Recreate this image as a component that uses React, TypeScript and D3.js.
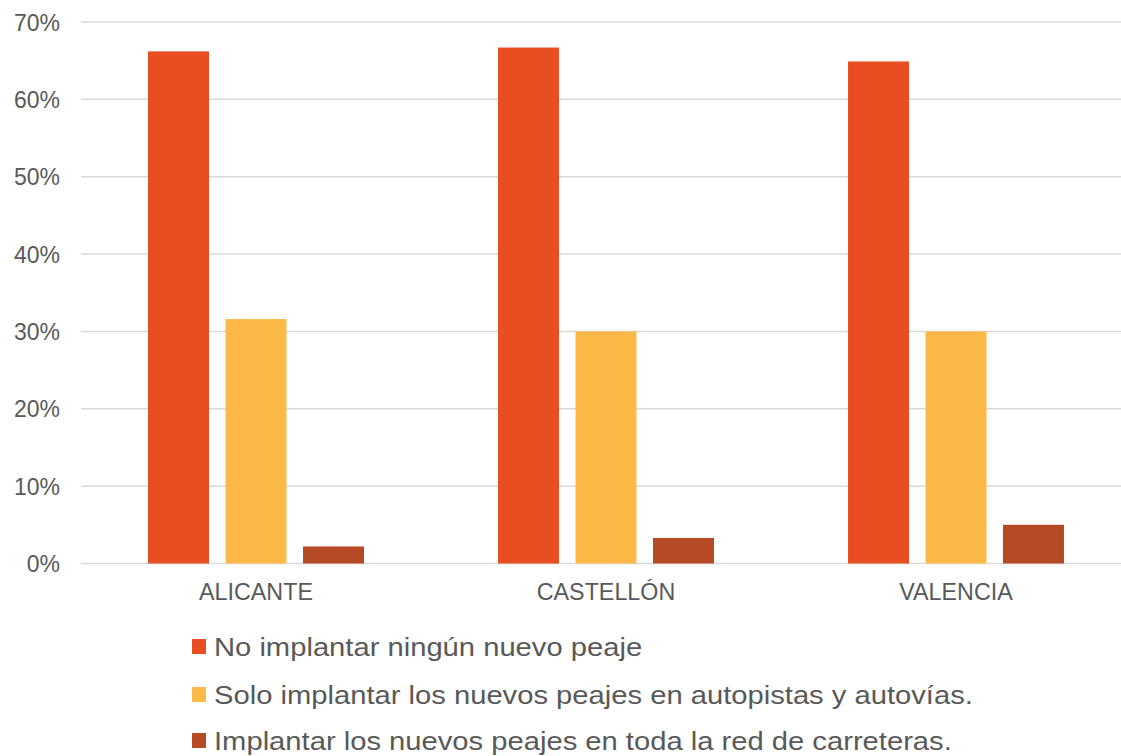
import React from "react";
import * as d3 from "d3";

const categories = ["ALICANTE", "CASTELLÓN", "VALENCIA"];
const seriesNames = [
  "No implantar ningún nuevo peaje",
  "Solo implantar los nuevos peajes en autopistas y autovías.",
  "Implantar los nuevos peajes en toda la red de carreteras.",
];
const noPeaje = [66.2, 66.7, 64.9];
const soloAutopistas = [31.6, 30.0, 30.0];
const todaLaRed = [2.2, 3.3, 5.0];
const yTicks = [0, 10, 20, 30, 40, 50, 60, 70];
const colors = ["#E84E22", "#FDB947", "#B64A24"];

const W = 1121;
const H = 756;
const FONT = "'Liberation Sans', Arial, sans-serif";
const TEXT = "#595959";

export default function App() {
  const series = [noPeaje, soloAutopistas, todaLaRed];
  const y = d3.scaleLinear().domain([0, 70]).range([563.5, 22]);
  const x0 = d3.scaleBand<string>().domain(categories).range([81, 1131]).paddingInner(0).paddingOuter(0);
  const x1 = d3
    .scaleBand<number>()
    .domain(d3.range(series.length))
    .range([0, x0.bandwidth()])
    .paddingInner(0.213)
    .paddingOuter(0.865);

  const legendY = [656, 704, 750];

  return (
    <svg
      width={W}
      height={H}
      style={{ position: "absolute", left: 0, top: 0, background: "#fff" }}
      fontFamily={FONT}
    >
      <rect x={0} y={0} width={W} height={H} fill="#fff" />
      {yTicks.map((t) => (
        <g key={t}>
          <line x1={81} x2={W} y1={y(t)} y2={y(t)} stroke="#D9D9D9" strokeWidth={1.5} />
          <text x={60} y={y(t) + 8.5} textAnchor="end" fontSize={23} fill={TEXT}>
            {t}%
          </text>
        </g>
      ))}
      {categories.map((c, ci) => (
        <g key={c}>
          {series.map((s, si) => (
            <rect
              key={si}
              x={(x0(c) as number) + (x1(si) as number)}
              y={y(s[ci])}
              width={x1.bandwidth()}
              height={y(0) - y(s[ci])}
              fill={colors[si]}
            />
          ))}
          <text
            x={(x0(c) as number) + x0.bandwidth() / 2}
            y={599.5}
            textAnchor="middle"
            fontSize={23.3}
            fill={TEXT}
          >
            {c}
          </text>
        </g>
      ))}
      {seriesNames.map((n, i) => (
        <g key={n}>
          <rect x={192} y={legendY[i] - 17} width={14} height={15} fill={colors[i]} />
          <text
            transform={`translate(214,${legendY[i]}) scale(1.14,1)`}
            fontSize={25.6}
            fill={TEXT}
          >
            {n}
          </text>
        </g>
      ))}
    </svg>
  );
}
